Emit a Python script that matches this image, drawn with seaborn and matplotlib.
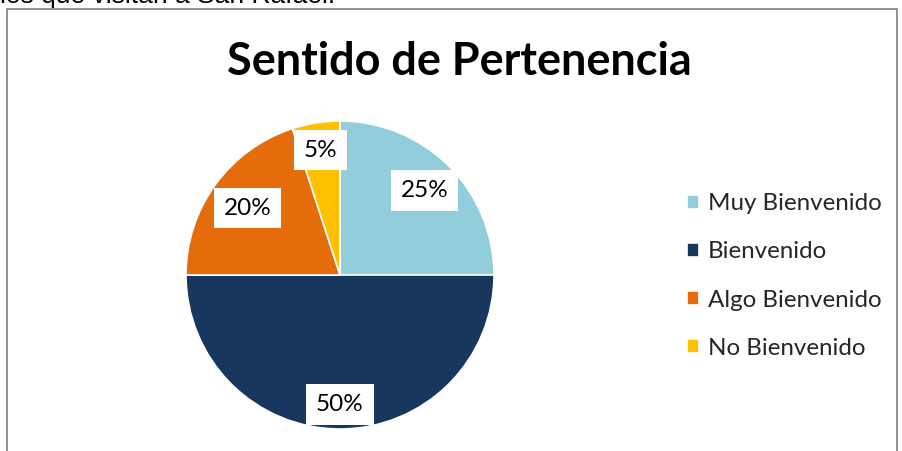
import matplotlib
matplotlib.use("Agg")
import matplotlib.pyplot as plt
import seaborn as sns
from matplotlib.patches import Rectangle
import numpy as np

categorias = ["Muy Bienvenido", "Bienvenido", "Algo Bienvenido", "No Bienvenido"]
porcentajes = [25, 50, 20, 5]
colores = ["#92CDDC", "#17375E", "#E46C0A", "#FFC000"]
titulo = "Sentido de Pertenencia"
texto_previo = "los que visitan a San Rafael."

sns.set_theme(style="white")
plt.rcParams["font.family"] = ["Lato", "DejaVu Sans"]

W, H = 902, 451
fig = plt.figure(figsize=(W / 100, H / 100), dpi=100)
fig.patch.set_facecolor("white")

# text of the document above the chart, cut off at the top like in the page
fig.text(0 / W, 1 - 3.5 / H, texto_previo, fontsize=19, va="baseline", ha="left",
         family="Liberation Sans", color="black")

# chart frame
fig.patches.append(Rectangle((7.5 / W, -0.05), 889 / W, 1.05 - 9.5 / H,
                             transform=fig.transFigure, fill=False,
                             edgecolor="#878787", linewidth=1.3))

cx, cy, r = 340, H - 275, 154
ax = fig.add_axes([(cx - r) / W, (cy - r) / H, 2 * r / W, 2 * r / H])
pal = sns.color_palette(colores)
wedges, textos, autotextos = ax.pie(
    porcentajes, colors=pal, startangle=90, counterclock=False, radius=1,
    autopct=lambda p: f"{p:.0f}%", pctdistance=0.8,
    wedgeprops=dict(edgecolor="white", linewidth=1.2))
ax.set_xlim(-1, 1)
ax.set_ylim(-1, 1)
ax.set_aspect("equal")

distancias = [0.776, 0.84, 0.74, 0.82]
for w, t, d in zip(wedges, autotextos, distancias):
    ang = np.deg2rad((w.theta1 + w.theta2) / 2)
    t.set_position((d * np.cos(ang), d * np.sin(ang)))
    t.set_fontsize(17.5)
    t.set_color("black")
    t.set_bbox(dict(facecolor="white", edgecolor="none", pad=7))

fig.text(459 / W, 1 - 62 / H, titulo, fontsize=32.4, fontweight="bold",
         ha="center", va="center", color="black")

leg = fig.legend(wedges, categorias, loc="center left",
                 bbox_to_anchor=(665 / W, 1 - 276 / H), frameon=False,
                 fontsize=17.4, handlelength=0.5, handleheight=0.5,
                 handletextpad=0.38, labelspacing=1.12)

fig.savefig("out.png", dpi=100)
